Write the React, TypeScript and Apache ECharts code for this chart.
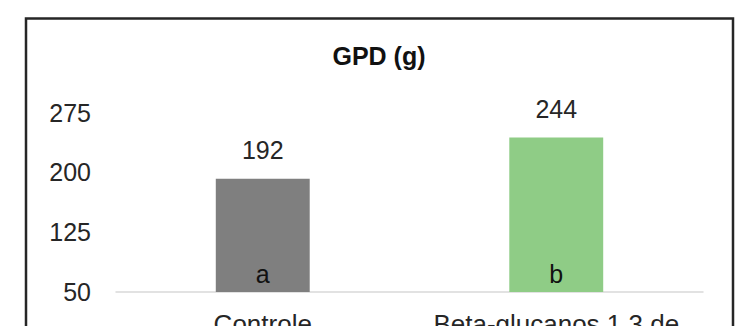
import React, { useEffect, useRef } from "react";
import * as echarts from "echarts";

const categories = ["Controle", "Beta-glucanos 1,3 de"];
const values = [192, 244];
const letters = ["a", "b"];
const barColors = ["#7f7f7f", "#8fcc86"];
const yMin = 50;
const yMax = 275;
const yStep = 75;
const titleText = "GPD (g)";

export default function App() {
  const ref = useRef<HTMLDivElement>(null);
  useEffect(() => {
    if (!ref.current) return;
    const chart = echarts.init(ref.current, undefined, { renderer: "svg" });
    const font = "'Liberation Sans', Arial, sans-serif";
    chart.setOption({
      animation: false,
      backgroundColor: "#ffffff",
      graphic: [
        {
          type: "rect",
          shape: { x: 26, y: 18.5, width: 707, height: 340 },
          style: { fill: "none", stroke: "#262626", lineWidth: 2.5 },
          z: 100,
        },
        {
          type: "text",
          x: 379,
          y: 56,
          style: {
            text: titleText,
            fontFamily: font,
            fontSize: 25,
            fontWeight: "bold",
            fill: "#111111",
            align: "center",
            verticalAlign: "middle",
          },
        },
      ],
      grid: {
        left: 116,
        right: 34,
        top: 112.7,
        bottom: 34,
        containLabel: false,
        outerBoundsMode: "none",
      },
      xAxis: {
        type: "category",
        data: categories,
        axisLine: { lineStyle: { color: "#d9d9d9", width: 1.5 } },
        axisTick: { show: false },
        axisLabel: {
          fontFamily: font,
          fontSize: 26,
          color: "#262626",
          margin: 19,
          interval: 0,
        },
      },
      yAxis: {
        type: "value",
        min: yMin,
        max: yMax,
        interval: yStep,
        axisLine: { show: false },
        axisTick: { show: false },
        splitLine: { show: false },
        axisLabel: {
          fontFamily: font,
          fontSize: 25,
          color: "#262626",
          margin: 25,
        },
      },
      series: [
        {
          type: "bar",
          data: values.map((v, i) => ({ value: v, itemStyle: { color: barColors[i] } })),
          barWidth: "32%",
          barGap: "-100%",
          label: {
            show: true,
            position: "top",
            distance: 16,
            fontFamily: font,
            fontSize: 25,
            color: "#262626",
          },
        },
        {
          type: "bar",
          data: values,
          barWidth: "32%",
          barGap: "-100%",
          itemStyle: { color: "rgba(0,0,0,0)" },
          label: {
            show: true,
            position: "insideBottom",
            distance: 6,
            fontFamily: font,
            fontSize: 25,
            color: "#111111",
            formatter: (p: any) => letters[p.dataIndex],
          },
        },
      ],
    });
    return () => chart.dispose();
  }, []);
  return (
    <div
      ref={ref}
      style={{ position: "fixed", left: 0, top: 0, width: 737, height: 326 }}
    />
  );
}
